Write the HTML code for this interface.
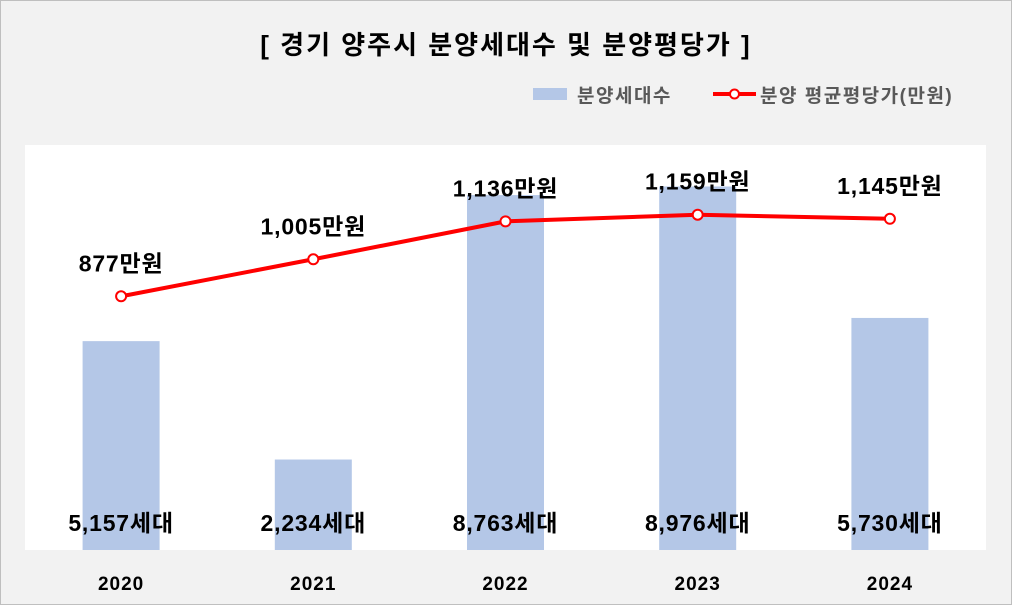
<!DOCTYPE html>
<html><head><meta charset="utf-8"><style>
body{margin:0;background:#fff;}
svg{display:block;font-family:"Liberation Sans","Noto Sans CJK KR",sans-serif;}
</style></head><body>
<svg width="1012" height="605" viewBox="0 0 1012 605">
<rect x="0.5" y="0.5" width="1011" height="604" fill="#f2f2f2" stroke="#bfbfbf"/>
<text x="506" y="54" text-anchor="middle" font-size="26" font-weight="bold" letter-spacing="2" fill="#000">[ 경기 양주시 분양세대수 및 분양평당가 ]</text>
<g>
<rect x="533" y="88" width="34" height="12" fill="#b4c7e7"/>
<text x="577" y="102" font-size="19" font-weight="bold" letter-spacing="1.5" fill="#595959">분양세대수</text>
<line x1="713" y1="94" x2="756" y2="94" stroke="#ff0000" stroke-width="4"/>
<circle cx="734.5" cy="94" r="4.5" fill="#fff" stroke="#ff0000" stroke-width="2"/>
<text x="760" y="102" font-size="19" font-weight="bold" letter-spacing="1.5" fill="#595959">분양 평균평당가(만원)</text>
</g>
<rect x="25" y="145" width="961" height="405" fill="#fff"/>
<g id="bars"></g><g id="line"></g><g id="labels"></g>
</svg>
<script>
const categories=["2020","2021","2022","2023","2024"];
const households=[5157,2234,8763,8976,5730];
const prices=[877,1005,1136,1159,1145];
const NS="http://www.w3.org/2000/svg";
const plotL=25,plotW=961,plotT=145,plotB=550;
const barMax=10000,lineMax=1400;
const xC=i=>plotL+plotW/categories.length*(i+0.5);
const yBar=v=>plotB-v/barMax*(plotB-plotT);
const yLine=v=>plotB-v/lineMax*(plotB-plotT);
function mk(tag,attrs,parent,text){const e=document.createElementNS(NS,tag);for(const k in attrs)e.setAttribute(k,attrs[k]);if(text!==undefined)e.textContent=text;document.getElementById(parent).appendChild(e);return e;}
const fmt=v=>v.toLocaleString('en-US');
categories.forEach((c,i)=>{
 const b=mk('rect',{x:xC(i)-38.5,y:yBar(households[i]),width:77,height:plotB-yBar(households[i]),fill:'#b4c7e7'},'bars');
 
 
 const t=mk('text',{x:xC(i),y:531,'text-anchor':'middle','font-size':23,'font-weight':'bold','letter-spacing':0.8,fill:'#000'},'labels',fmt(households[i])+'세대');
 
 
 const y=mk('text',{x:xC(i),y:590,'text-anchor':'middle','font-size':19,'font-weight':'bold','letter-spacing':1,fill:'#000'},'labels',c);
 
 
});
const pl=mk('polyline',{points:prices.map((v,i)=>xC(i)+','+yLine(v)).join(' '),fill:'none',stroke:'#ff0000','stroke-width':4,'stroke-linejoin':'round'},'line');


prices.forEach((v,i)=>{
 const p=mk('circle',{cx:xC(i),cy:yLine(v),r:5,fill:'#fff',stroke:'#ff0000','stroke-width':2},'line');
 
 
 const t=mk('text',{x:xC(i),y:yLine(v)-25,'text-anchor':'middle','font-size':23,'font-weight':'bold','letter-spacing':0.8,fill:'#000'},'labels',fmt(v)+'만원');
 
 
});
</script>
</body></html>
